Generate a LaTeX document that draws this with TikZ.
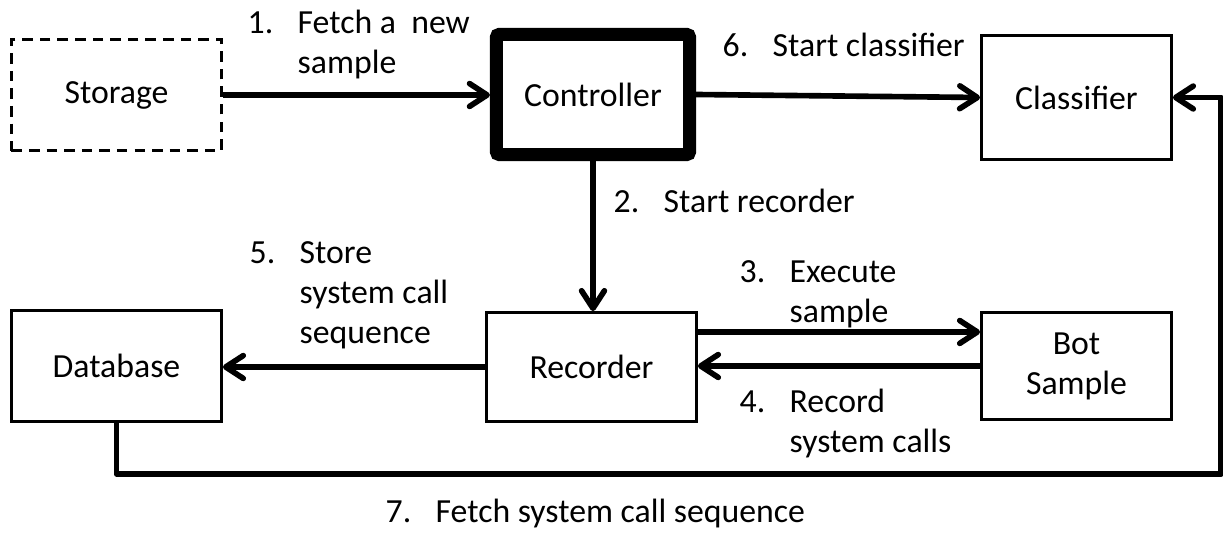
\documentclass[tikz,border=0pt]{standalone}
\usepackage{fontspec}
\setmainfont{Carlito}
\usetikzlibrary{arrows.meta}
\newcommand\tb{\hspace*{0.5cm}}
\newcommand\nm[1]{\makebox[0.5cm][l]{#1}}
\tikzset{
  every node/.style={font=\fontsize{9.6pt}{11.4pt}\selectfont},
  box/.style={draw, line width=0.75pt, inner sep=0pt, align=center},
  dashbox/.style={box, dash pattern=on 3pt off 2pt},
  mainbox/.style={draw, line width=3.7pt, inner sep=0pt, rounded corners=0.8pt},
  conn/.style={line width=1.6pt, -{Straight Barb[length=5pt,width=6.5pt,round]}},
  lab/.style={anchor=base west, inner sep=0pt, align=left},
}
\begin{document}
\begin{tikzpicture}[x=0.01cm, y=-0.01cm]
\useasboundingbox (0,0) rectangle (1223,540);
% boxes
\node[dashbox, minimum width=2.10cm, minimum height=1.11cm] (storage) at (116.5,95) {Storage};
\node[mainbox, minimum width=1.93cm, minimum height=1.20cm] (controller) at (593,94.5) {Controller};
\node[box, minimum width=1.90cm, minimum height=1.24cm] (classifier) at (1076.5,97.5) {Classifier};
\node[box, minimum width=2.10cm, minimum height=1.11cm] (database) at (116.5,366) {Database};
\node[box, minimum width=2.10cm, minimum height=1.09cm] (recorder) at (591.5,367) {Recorder};
\node[box, minimum width=1.90cm, minimum height=1.07cm] (bot) at (1076.5,366) {Bot\\Sample};
\coordinate (br) at (1221,474);
% connectors
\draw[conn] (storage.east) -- (storage.east -| controller.west);
\draw[conn] (controller.east) -- (classifier.west);
\draw[conn] (controller.south) -- (controller.south |- recorder.north);
\draw[conn] ([yshift=0.35cm]recorder.east) -- ([yshift=0.35cm]recorder.east -| bot.west);
\draw[conn] (bot.west) -- (bot.west -| recorder.east);
\draw[conn] (recorder.west) -- (recorder.west -| database.east);
\draw[conn, line join=round] (database.south) |- (br) |- (classifier.east);
% labels (anchored at the baseline of their last line)
\node[lab] (l1) at (247,74) {\nm{1.}Fetch a\ \ new\\\tb sample};
\node[lab] (l6) at (722,57) {\nm{6.}Start classifier};
\node[lab] (l2) at (613,213) {\nm{2.}Start recorder};
\node[lab] (l5) at (249,344) {\nm{5.}Store\\\tb system call\\\tb sequence};
\node[lab] (l3) at (739,323) {\nm{3.}Execute\\\tb sample};
\node[lab] (l4) at (739,453) {\nm{4.}Record\\\tb system calls};
\node[lab] (l7) at (385,523) {\nm{7.}Fetch system call sequence};
\end{tikzpicture}
\end{document}
